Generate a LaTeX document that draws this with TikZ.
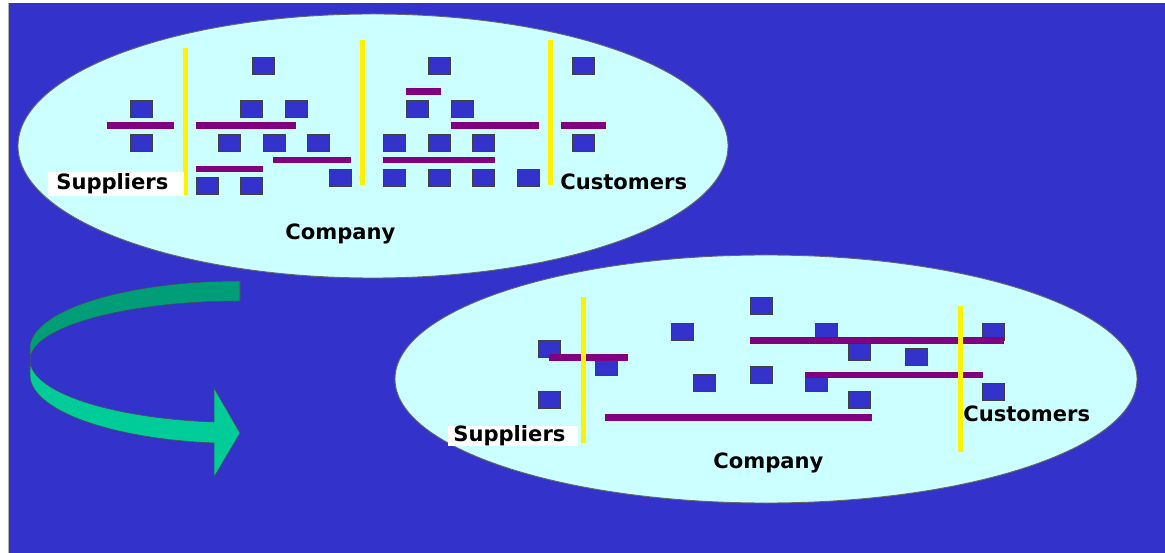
\documentclass[tikz,border=0pt]{standalone}
\usepackage{fontspec}
\setmainfont{DejaVu Sans}

\definecolor{slideblue}{HTML}{3333CC}
\definecolor{paleaqua}{HTML}{CCFFFF}
\definecolor{barpurple}{HTML}{800080}
\definecolor{arrowdark}{HTML}{009E78}
\definecolor{arrowlight}{HTML}{00CC99}

\begin{document}
\begin{tikzpicture}[x=0.02cm, y=-0.02cm,
		unit/.style={fill=slideblue, draw=black!75, line width=0.4pt},
		link/.style={fill=barpurple},
		border/.style={draw=yellow, line width=0.1cm},
		cloud/.style={fill=paleaqua, draw=black!60, line width=0.5pt},
		lbl/.style={font=\bfseries\fontsize{12}{14}\selectfont, inner sep=0pt, anchor=west}]
			\useasboundingbox (0,0) rectangle (1165,553);
			\fill[slideblue] (8,3) rectangle (1165,553);
			\draw[gray!60] (8,3) -- (8,553);

			% before: departments stacked in columns
			\draw[cloud] (373,146) ellipse [x radius=355, y radius=132];
			\foreach \x/\y in {130/100, 130/134, 252/57, 240/100, 285/100, 218/134, 263/134, 307/134,
				329/169, 196/177, 240/177, 428/57, 572/57, 406/100, 451/100, 383/134, 428/134,
				472/134, 572/134, 383/169, 428/169, 472/169, 517/169}
				\draw[unit] (\x,\y) rectangle ++(22,17);
			\fill[link] (107,122) rectangle (174,129);
			\fill[link] (196,122) rectangle (296,129);
			\fill[link] (196,166) rectangle (263,172);
			\fill[link] (273,157) rectangle (351,163);
			\fill[link] (406,88) rectangle (441,95);
			\fill[link] (451,122) rectangle (539,129);
			\fill[link] (561,122) rectangle (606,129);
			\fill[link] (383,157) rectangle (495,163);
			\draw[border] (185,48) -- (185,195);
			\draw[border] (362,40) -- (362,185);
			\draw[border] (550,40) -- (550,185);
			\node[lbl, fill=white, inner xsep=0.16cm, text width=2.4cm, align=left, minimum height=0.48cm] (supA) at (48,184) {Suppliers};
			\node[lbl] (custA) at (560,182) {Customers};
			\node[lbl] (compA) at (285,234) {Company};

			% turning arrow
			\filldraw[fill=arrowdark, draw=black!70, line width=0.3pt]
				plot[domain=90:180, samples=40, variable=\t] ({240+210*cos(\t)}, {348-67*sin(\t)})
				-- plot[domain=180:90, samples=40, variable=\t] ({240+210*cos(\t)}, {360-59*sin(\t)}) -- cycle;
			\filldraw[fill=arrowlight, draw=black!70, line width=0.3pt]
				plot[domain=180:97.1, samples=40, variable=\t] ({240+210*cos(\t)}, {360+62.5*sin(\t)})
				-- (214,388) -- (240,433) -- (214,477) -- (214,443)
				-- plot[domain=97.1:180, samples=40, variable=\t] ({240+210*cos(\t)}, {375+68.5*sin(\t)}) -- cycle;

			% after: process running across the company
			\draw[cloud] (766,379) ellipse [x radius=371, y radius=124];
			\foreach \x/\y in {538/340, 595/358, 538/391, 671/323, 750/297, 815/323, 848/343,
				905/348, 982/323, 693/374, 750/366, 805/374, 848/391, 982/383}
				\draw[unit] (\x,\y) rectangle ++(22,17);
			\fill[link] (549,354) rectangle (628,361);
			\fill[link] (750,337) rectangle (1004,344);
			\fill[link] (805,372) rectangle (983,378);
			\fill[link] (605,414) rectangle (872,421);
			\draw[border] (583,297) -- (583,443);
			\draw[border] (960,306) -- (960,452);
			\node[lbl, fill=white, inner xsep=0.1cm, text width=2.4cm, align=left] (supB) at (448,436) {Suppliers};
			\node[lbl] (custB) at (963,414) {Customers};
			\node[lbl] (compB) at (713,463) {Company};
		\end{tikzpicture}
\end{document}
